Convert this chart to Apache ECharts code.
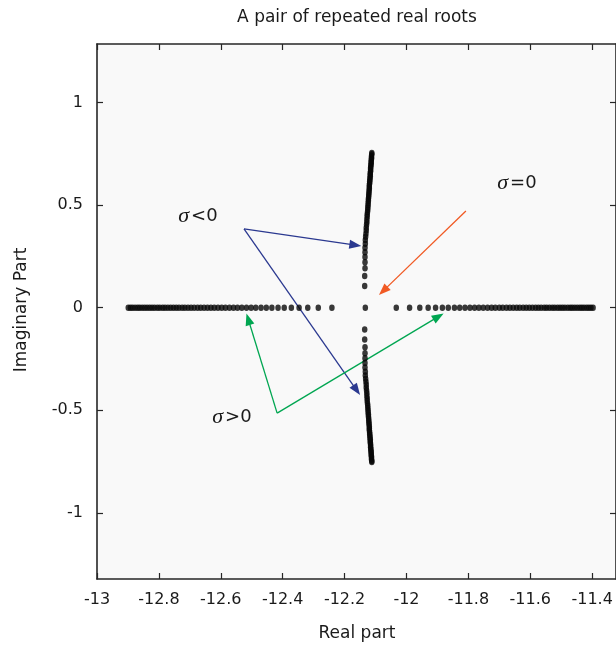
<!DOCTYPE html>
<html><head><meta charset="utf-8">
<script src="https://cdn.jsdelivr.net/npm/echarts@6/dist/echarts.min.js"></script>
<style>html,body{margin:0;padding:0;background:#fff}#c{width:616px;height:645px}</style>
</head><body><div id="c"></div>
<script>
const titleText = 'A pair of repeated real roots';
const xName = 'Real part';
const yName = 'Imaginary Part';
const xTicks = [-13, -12.8, -12.6, -12.4, -12.2, -12, -11.8, -11.6, -11.4];
const yTicks = [-1, -0.5, 0, 0.5, 1];

// sigma > 0 : roots on the real axis
const realLeft = [-12.241, -12.285, -12.319, -12.347, -12.372, -12.395, -12.415, -12.435, -12.453, -12.470,
  -12.487, -12.502, -12.517, -12.532, -12.546, -12.559, -12.572, -12.585, -12.597, -12.609,
  -12.621, -12.632, -12.643, -12.654, -12.665, -12.675, -12.686, -12.696, -12.706, -12.716,
  -12.725, -12.735, -12.744, -12.753, -12.762, -12.771, -12.780, -12.788, -12.797, -12.805,
  -12.814, -12.822, -12.830, -12.838, -12.846, -12.854, -12.862, -12.869, -12.877, -12.885,
  -12.892, -12.899];
const realRight = [-12.033, -11.990, -11.957, -11.930, -11.906, -11.884, -11.865, -11.845, -11.828, -11.811,
  -11.795, -11.780, -11.766, -11.752, -11.738, -11.725, -11.713, -11.700, -11.689, -11.677,
  -11.666, -11.655, -11.644, -11.634, -11.623, -11.613, -11.603, -11.593, -11.583, -11.574,
  -11.565, -11.555, -11.547, -11.538, -11.529, -11.521, -11.512, -11.504, -11.496, -11.488,
  -11.479, -11.471, -11.464, -11.456, -11.448, -11.440, -11.433, -11.426, -11.418, -11.411,
  -11.404, -11.397];
// sigma = 0 : repeated root
const centerReal = [-12.133];
const centerImag = [0];
// sigma < 0 : complex pair
const upperReal = [-12.135, -12.135, -12.134, -12.134, -12.134, -12.134, -12.134, -12.133, -12.133, -12.132,
  -12.131, -12.130, -12.130, -12.129, -12.128, -12.128, -12.127, -12.127, -12.126, -12.125,
  -12.125, -12.124, -12.124, -12.123, -12.123, -12.122, -12.122, -12.121, -12.121, -12.120,
  -12.120, -12.120, -12.119, -12.119, -12.118, -12.118, -12.117, -12.117, -12.117, -12.116,
  -12.116, -12.116, -12.115, -12.115, -12.114, -12.114, -12.114, -12.113, -12.113, -12.113,
  -12.112, -12.112];
const upperImag = [0.106, 0.155, 0.193, 0.222, 0.247, 0.270, 0.292, 0.312, 0.330, 0.346,
  0.361, 0.376, 0.390, 0.404, 0.417, 0.430, 0.443, 0.455, 0.467, 0.478,
  0.489, 0.500, 0.511, 0.521, 0.531, 0.541, 0.551, 0.561, 0.570, 0.580,
  0.589, 0.598, 0.607, 0.616, 0.624, 0.633, 0.641, 0.649, 0.657, 0.665,
  0.673, 0.681, 0.689, 0.696, 0.704, 0.711, 0.719, 0.726, 0.733, 0.740,
  0.748, 0.755];
const lowerReal = [-12.135, -12.135, -12.134, -12.134, -12.134, -12.134, -12.134, -12.133, -12.133, -12.132,
  -12.131, -12.130, -12.130, -12.129, -12.128, -12.128, -12.127, -12.127, -12.126, -12.125,
  -12.125, -12.124, -12.124, -12.123, -12.123, -12.122, -12.122, -12.121, -12.121, -12.120,
  -12.120, -12.120, -12.119, -12.119, -12.118, -12.118, -12.117, -12.117, -12.117, -12.116,
  -12.116, -12.116, -12.115, -12.115, -12.114, -12.114, -12.114, -12.113, -12.113, -12.113,
  -12.112, -12.112];
const lowerImag = [-0.106, -0.155, -0.193, -0.222, -0.247, -0.270, -0.292, -0.312, -0.330, -0.346,
  -0.361, -0.376, -0.390, -0.404, -0.417, -0.430, -0.443, -0.455, -0.467, -0.478,
  -0.489, -0.500, -0.511, -0.521, -0.531, -0.541, -0.551, -0.561, -0.570, -0.580,
  -0.589, -0.598, -0.607, -0.616, -0.624, -0.633, -0.641, -0.649, -0.657, -0.665,
  -0.673, -0.681, -0.689, -0.696, -0.704, -0.711, -0.719, -0.726, -0.733, -0.740,
  -0.748, -0.752];

// annotations (data coordinates)
const annotations = [
  {label: '<0', color: '#2b3990', text: [-12.674, 0.447], vertex: [-12.525, 0.384], tips: [[-12.146, 0.301], [-12.150, -0.426]]},
  {label: '=0', color: '#f15a24', text: [-11.643, 0.608], vertex: [-11.808, 0.472], tips: [[-12.089, 0.062]]},
  {label: '>0', color: '#00a651', text: [-12.564, -0.533], vertex: [-12.418, -0.514], tips: [[-12.517, -0.028], [-11.880, -0.028]]}
];

const X_MIN = -13, X_MAX = -11.323, Y_MIN = -1.323, Y_MAX = 1.286;
const FONT = 'DejaVu Sans';
const TXT = '#1a1a1a';
const AX = '#262626';

const zip = (a, b) => a.map((v, i) => [v, b[i]]);
const zeros = a => a.map(v => [v, 0]);

const chart = echarts.init(document.getElementById('c'), null, {renderer: 'canvas'});

const xBase = {
  type: 'value', min: X_MIN, max: X_MAX,
  axisLine: {show: true, onZero: false, lineStyle: {color: AX, width: 1.6}},
  axisTick: {show: true, inside: true, length: 6, customValues: xTicks, lineStyle: {color: AX, width: 1.2}},
  splitLine: {show: false}
};
const yBase = {
  type: 'value', min: Y_MIN, max: Y_MAX,
  axisLine: {show: true, onZero: false, lineStyle: {color: AX, width: 1.6}},
  axisTick: {show: true, inside: true, length: 6, customValues: yTicks, lineStyle: {color: AX, width: 1.2}},
  splitLine: {show: false}
};

const dotStyle = {symbol: 'circle', symbolSize: [5.5, 6.5], itemStyle: {color: '#080808'}};

chart.setOption({
  animation: false,
  backgroundColor: '#ffffff',
  grid: {left: 97, right: 0, top: 44, bottom: 66, show: true, backgroundColor: '#f9f9f9', borderWidth: 0},
  xAxis: [
    Object.assign({}, xBase, {position: 'bottom',
      axisLabel: {show: true, customValues: xTicks, margin: 13, color: TXT, fontFamily: FONT, fontSize: 16, formatter: v => String(v)}}),
    Object.assign({}, xBase, {position: 'top', axisLabel: {show: false}})
  ],
  yAxis: [
    Object.assign({}, yBase, {position: 'left',
      axisLabel: {show: true, customValues: yTicks, margin: 14, color: TXT, fontFamily: FONT, fontSize: 16, formatter: v => String(v)}}),
    Object.assign({}, yBase, {position: 'right', axisLabel: {show: false}})
  ],
  series: [
    Object.assign({type: 'scatter', name: 'left', data: zeros(realLeft)}, dotStyle),
    Object.assign({type: 'scatter', name: 'right', data: zeros(realRight)}, dotStyle),
    Object.assign({type: 'scatter', name: 'center', data: zip(centerReal, centerImag)}, dotStyle),
    Object.assign({type: 'scatter', name: 'upper', data: zip(upperReal, upperImag)}, dotStyle),
    Object.assign({type: 'scatter', name: 'lower', data: zip(lowerReal, lowerImag)}, dotStyle)
  ]
});

function px(p) { return chart.convertToPixel({xAxisIndex: 0, yAxisIndex: 0}, p); }

const graphics = [];
graphics.push({type: 'text', x: 357, y: 18, style: {text: titleText, font: '17px "' + FONT + '"', fill: TXT, textAlign: 'center', textVerticalAlign: 'middle'}});
graphics.push({type: 'text', x: 357, y: 634, style: {text: xName, font: '17px "' + FONT + '"', fill: TXT, textAlign: 'center', textVerticalAlign: 'middle'}});
graphics.push({type: 'text', x: 22, y: 310, rotation: Math.PI / 2, style: {text: yName, font: '17px "' + FONT + '"', fill: TXT, textAlign: 'center', textVerticalAlign: 'middle'}});

annotations.forEach(a => {
  const v = px(a.vertex);
  a.tips.forEach(t => {
    const T = px(t);
    const dx = T[0] - v[0], dy = T[1] - v[1];
    const len = Math.hypot(dx, dy);
    const ux = dx / len, uy = dy / len;
    const nx = -uy, ny = ux;
    const hl = 12, hw = 4.5;
    const bx = T[0] - ux * hl, by = T[1] - uy * hl;
    graphics.push({type: 'line', shape: {x1: v[0], y1: v[1], x2: bx + ux * 1, y2: by + uy * 1}, style: {stroke: a.color, lineWidth: 1.3}});
    graphics.push({type: 'polygon', shape: {points: [[T[0], T[1]], [bx + nx * hw, by + ny * hw], [bx - nx * hw, by - ny * hw]]}, style: {fill: a.color}});
  });
  const tp = px(a.text);
  graphics.push({type: 'text', x: tp[0], y: tp[1], style: {
    text: '{s|σ}{t|' + a.label + '}', textAlign: 'center', textVerticalAlign: 'middle',
    rich: {
      s: {fontFamily: 'Liberation Serif', fontStyle: 'italic', fontSize: 22, fill: TXT, padding: [0, 2, 0, 0]},
      t: {fontFamily: FONT, fontSize: 18, fill: TXT}
    }
  }});
});

chart.setOption({graphic: graphics});
</script>
</body></html>
